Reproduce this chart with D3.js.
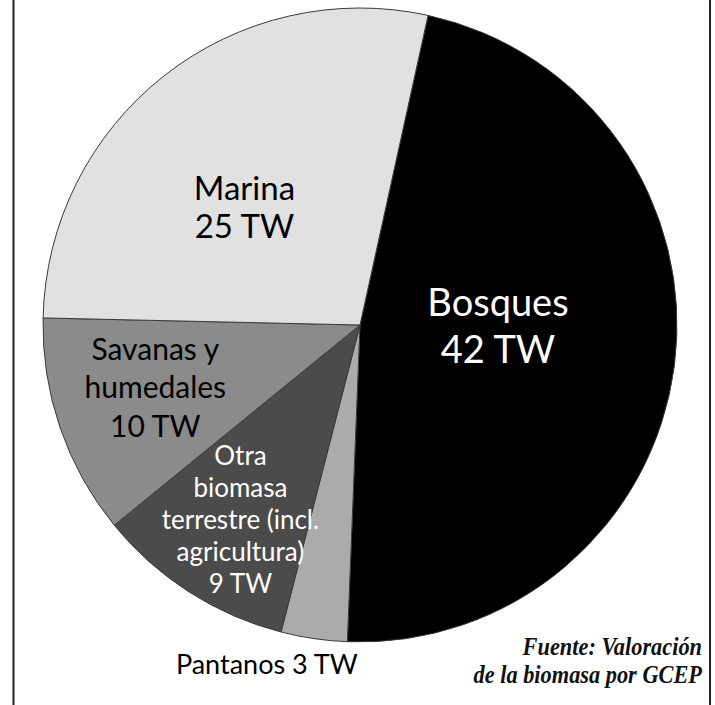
<!DOCTYPE html>
<html>
<head>
<meta charset="utf-8">
<script src="https://cdn.jsdelivr.net/npm/d3@7"></script>
<style>
  body { margin: 0; background: #fff; }
  svg { display: block; }
</style>
</head>
<body>
<svg id="chart"></svg>
<script>
// slices, clockwise starting at the Marina/Bosques edge
const categories = ["Bosques", "Pantanos", "Otra\nbiomasa\nterrestre (incl.\nagricultura)", "Savanas y\nhumedales", "Marina"];
const values = [42, 3, 9, 10, 25];
const unit = "TW";
const sourceLines = ["Fuente:  Valoración", "de la biomasa por GCEP"];

const width = 715;
const height = 705;
const cx = 360;
const cy = 325;
const radius = 317;
const startDeg = 12.4;

const fills = ["#000000", "#ababab", "#4b4b4b", "#8b8b8b", "#e1e1e1"];
const textFill = ["#fff", "#000", "#fff", "#000", "#000"];
const fontSize = [38, 27, 26, 30, 33];
const lineH = [47, 30, 32, 38.5, 38];
// label placement: radius and angle shift (deg) from slice middle
const labelR = [138, 352, 228, 214, 165];
const labelShift = [-7.2, 7, -1, 2, -6.3];

const svg = d3.select("#chart")
  .attr("width", width)
  .attr("height", height);

// frame lines left and right
svg.selectAll(".frame")
  .data([13.5, 710])
  .enter()
  .append("line")
  .attr("x1", d => d).attr("x2", d => d)
  .attr("y1", 0).attr("y2", height)
  .attr("stroke", "#222")
  .attr("stroke-width", 2);

const pie = d3.pie()
  .sort(null)
  .value(d => d)
  .startAngle(startDeg * Math.PI / 180)
  .endAngle(startDeg * Math.PI / 180 + 2 * Math.PI);

const arc = d3.arc()
  .innerRadius(0)
  .outerRadius(radius);

const g = svg.append("g")
  .attr("transform", `translate(${cx},${cy})`);

const arcs = pie(values);

g.selectAll(".slice")
  .data(arcs)
  .enter()
  .append("path")
  .attr("d", arc)
  .style("fill", (d, i) => fills[i])
  .style("stroke", "#3a3a3a")
  .style("stroke-width", 1);

g.selectAll(".lbl")
  .data(arcs)
  .enter()
  .append("text")
  .attr("text-anchor", "middle")
  .style("font-family", "Lato, 'Open Sans', sans-serif")
  .style("font-size", (d, i) => `${fontSize[i]}px`)
  .style("fill", (d, i) => textFill[i])
  .each(function (d, i) {
    const lines = categories[i].split("\n");
    if (i === 1) lines[0] = `${lines[0]} ${values[i]} ${unit}`;
    else lines.push(`${values[i]} ${unit}`);
    const a = (d.startAngle + d.endAngle) / 2 + labelShift[i] * Math.PI / 180;
    const x = Math.sin(a) * labelR[i];
    const y = -Math.cos(a) * labelR[i];
    const cap = 0.72 * fontSize[i];
    const first = y - ((lines.length - 1) * lineH[i] + cap) / 2 + cap;
    const t = d3.select(this);
    lines.forEach((s, k) => {
      t.append("tspan")
        .attr("x", x)
        .attr("y", first + k * lineH[i])
        .text(s);
    });
  });

// source note, narrowed a bit like the original italic
svg.append("text")
  .attr("text-anchor", "end")
  .attr("transform", "translate(702,0) scale(0.86,1)")
  .style("font-family", "'Liberation Serif', serif")
  .style("font-style", "italic")
  .style("font-weight", "bold")
  .style("font-size", "26px")
  .style("fill", "#111")
  .selectAll("tspan")
  .data(sourceLines)
  .enter()
  .append("tspan")
  .attr("x", 0)
  .attr("y", (d, i) => 655 + i * 28)
  .text(d => d);
</script>
</body>
</html>
